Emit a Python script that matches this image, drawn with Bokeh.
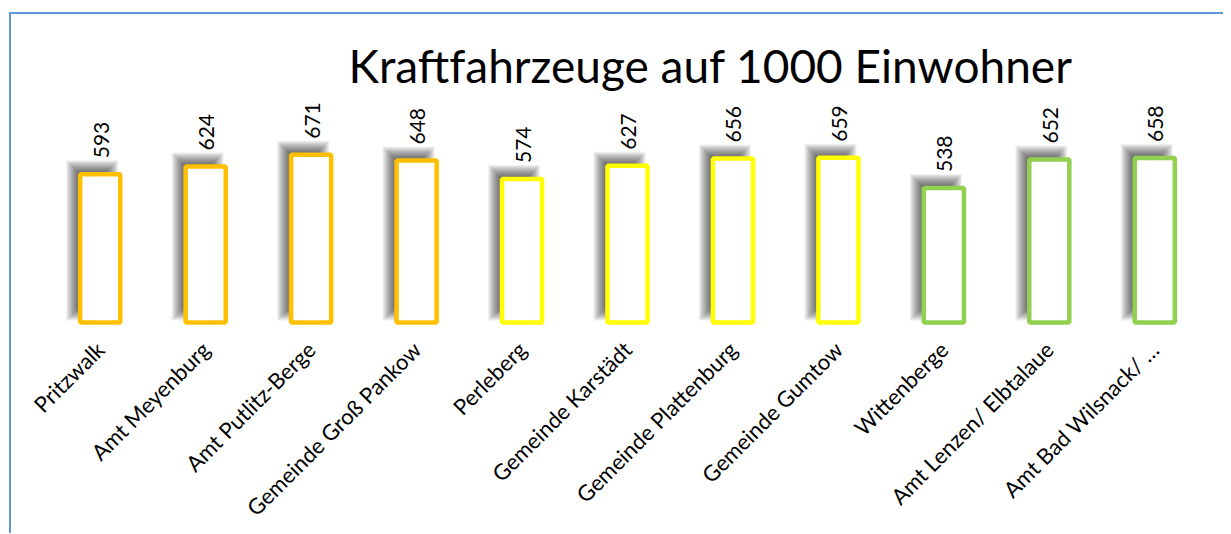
from math import pi
from bokeh.plotting import figure
from bokeh.models import FactorRange, Range1d, ColumnDataSource
from bokeh.transform import dodge
from bokeh.embed import file_html
from bokeh.resources import INLINE

# ---- data ----
categories = ["Pritzwalk", "Amt Meyenburg", "Amt Putlitz-Berge", "Gemeinde Groß Pankow",
              "Perleberg", "Gemeinde Karstädt", "Gemeinde Plattenburg", "Gemeinde Gumtow",
              "Wittenberge", "Amt Lenzen/ Elbtalaue", "Amt Bad Wilsnack/ …"]
values = [593, 624, 671, 648, 574, 627, 656, 659, 538, 652, 658]
bar_colors = ["#FFC000", "#FFC000", "#FFC000", "#FFC000",
              "#FFFF00", "#FFFF00", "#FFFF00", "#FFFF00",
              "#92D050", "#92D050", "#92D050"]
title_text = "Kraftfahrzeuge auf 1000 Einwohner"

# ---- layout constants ----
FRAME_W = 1160
FRAME_H = 234
Y0, Y1 = -20, 916
PX_X = FRAME_W / len(categories)        # pixels per category unit
UNITS_PER_PX_Y = (Y1 - Y0) / FRAME_H     # data units per pixel (y)
BAR_W = 0.38

p = figure(x_range=FactorRange(factors=categories, range_padding=0),
           y_range=Range1d(Y0, Y1),
           frame_width=FRAME_W, frame_height=FRAME_H,
           min_border_left=36, min_border_right=16, min_border_top=79, min_border_bottom=0,
           y_axis_location=None, output_backend="svg", toolbar_location=None,
           background_fill_color="white", border_fill_color="white")
p.styles = {"border-left": "2px solid #5B9BD5", "border-top": "2px solid #5B9BD5",
            "margin-left": "9px", "margin-top": "12px"}
p.outline_line_color = None
p.xgrid.grid_line_color = None
p.ygrid.grid_line_color = None

p.title.text = title_text
p.title.text_font = "Lato"
p.title.text_font_size = "46px"
p.title.text_font_style = "normal"
p.title.text_color = "black"
p.title.align = "left"
p.title.offset = 301
p.title.standoff = 1

src = ColumnDataSource(dict(cat=categories, val=values, color=bar_colors,
                            label=[str(v) for v in values]))

# blurred drop shadow (offset up-left), built from stacked translucent layers
sh_dx = -8 / PX_X
sh_dy = 8 * UNITS_PER_PX_Y
for k in range(-6, 7):
    tops = [v + sh_dy + k * UNITS_PER_PX_Y for v in values]
    bots = [sh_dy - k * UNITS_PER_PX_Y for _ in values]
    s = ColumnDataSource(dict(cat=categories, top=tops, bottom=bots))
    p.vbar(x=dodge("cat", sh_dx, range=p.x_range), top="top", bottom="bottom",
           width=BAR_W + 2 * k / PX_X, source=s,
           fill_color="black", fill_alpha=0.06, line_color=None)

p.vbar(x="cat", top="val", bottom=0, width=BAR_W, source=src,
       fill_color="white", line_color="color", line_width=4.5)

p.text(x="cat", y="val", text="label", source=src, angle=pi / 2,
       text_align="left", text_baseline="middle", x_offset=1, y_offset=-16,
       text_font={"value": "Lato"}, text_font_size="21px", text_color="black")

ax = p.xaxis[0]
ax.major_label_orientation = pi / 4
ax.axis_line_color = None
ax.major_tick_line_color = None
ax.minor_tick_line_color = None
ax.major_label_text_font = "Lato"
ax.major_label_text_font_size = "22px"
ax.major_label_text_color = "black"
ax.major_label_standoff = 12

open("out.html", "w").write(file_html(p, INLINE))
